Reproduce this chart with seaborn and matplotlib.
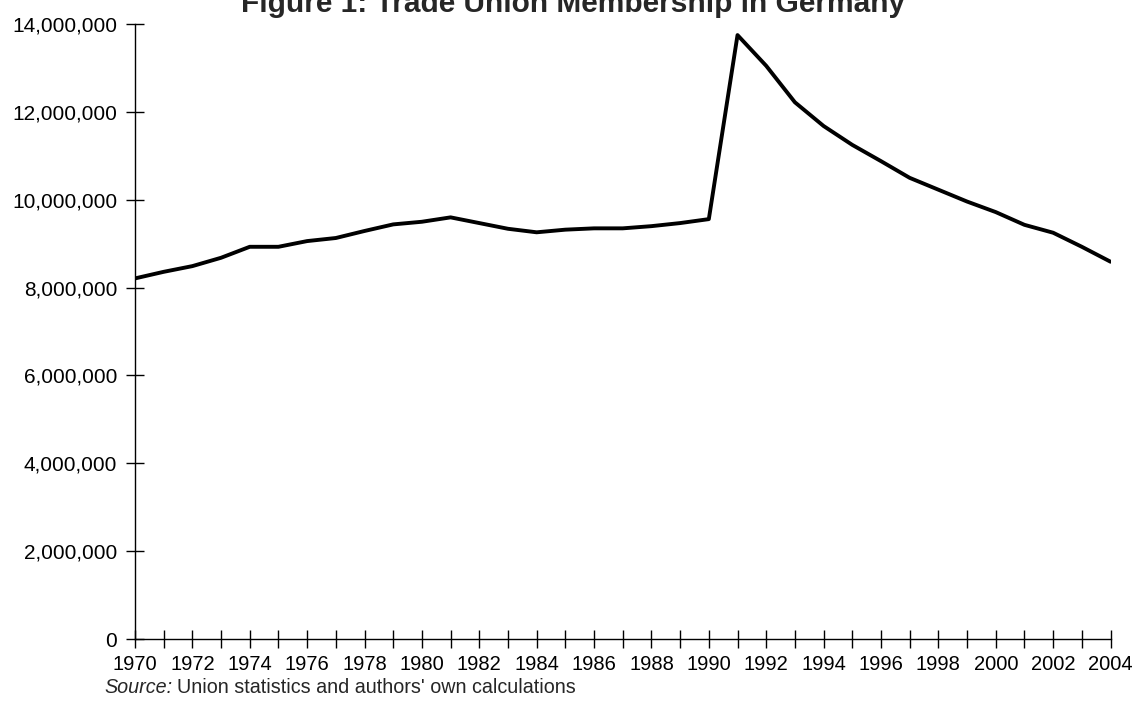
import matplotlib
matplotlib.use('Agg')
import matplotlib.pyplot as plt
import matplotlib.ticker as mticker
import seaborn as sns
import pandas as pd

# Trade union membership in Germany
years = list(range(1970, 2005))
members = [8.21e6, 8.36e6, 8.49e6, 8.68e6, 8.93e6, 8.93e6, 9.06e6, 9.13e6, 9.29e6, 9.44e6,
           9.50e6, 9.60e6, 9.47e6, 9.34e6, 9.26e6, 9.32e6, 9.35e6, 9.35e6, 9.40e6, 9.47e6,
           9.56e6, 13.75e6, 13.05e6, 12.22e6, 11.68e6, 11.25e6, 10.88e6, 10.50e6, 10.23e6, 9.96e6,
           9.72e6, 9.43e6, 9.25e6, 8.93e6, 8.59e6]
y_ticks = list(range(0, 14000001, 2000000))
title = 'Figure 1: Trade Union Membership in Germany'
source = "Union statistics and authors' own calculations"

df = pd.DataFrame({'year': years, 'members': members})

sns.set_style('ticks')
plt.rcParams['font.family'] = ['Liberation Sans', 'DejaVu Sans']

fig = plt.figure(figsize=(11.39, 7.09), dpi=100)
ax = fig.add_axes([0.1185, 0.0987, 0.975 - 0.1185, 0.966 - 0.0987])

sns.lineplot(data=df, x='year', y='members', color='black', linewidth=2.8, ax=ax)

ax.set_xlim(1970, 2004)
ax.set_ylim(0, 14000000)
ax.set_xticks(years)
# label every second year only
ax.set_xticklabels([str(y) if (y - 1970) % 2 == 0 else '' for y in years])
ax.set_yticks(y_ticks)
ax.yaxis.set_major_formatter(mticker.FuncFormatter(lambda v, p: f'{int(v):,}'))
ax.set_xlabel('')
ax.set_ylabel('')

for side in ['top', 'right']:
    ax.spines[side].set_visible(False)
for side in ['left', 'bottom']:
    ax.spines[side].set_linewidth(1.0)
    ax.spines[side].set_color('black')
ax.tick_params(axis='both', direction='inout', length=13, width=1.0, colors='black',
               labelcolor='black')
ax.tick_params(axis='x', pad=5, labelsize=14.5)
ax.tick_params(axis='y', pad=6.2, labelsize=15)

# title sits partly above the top edge, as in the original
fig.text(573 / 1139, 1 - 12 / 709, title,
         ha='center', va='baseline', fontsize=21.5, fontweight='bold')
fig.text(104 / 1139, 1 - 693 / 709, 'Source:', fontstyle='italic', fontsize=14.2, va='baseline')
fig.text(177 / 1139, 1 - 693 / 709, source, fontsize=14.2, va='baseline')

fig.savefig('out.png', dpi=100)
